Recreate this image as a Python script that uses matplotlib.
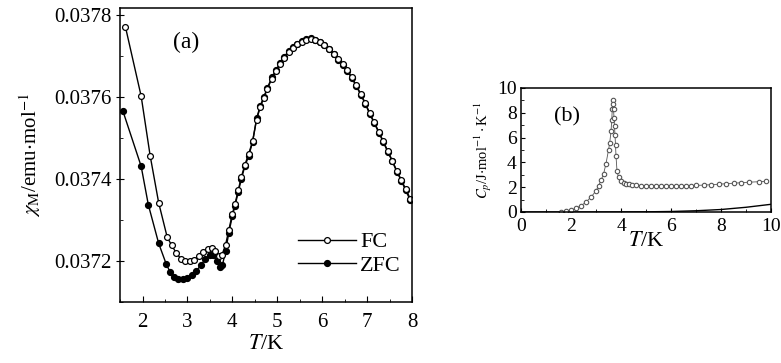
import matplotlib
matplotlib.use("Agg")
import matplotlib.pyplot as plt
from matplotlib.ticker import MultipleLocator

plt.rcParams['font.family'] = ['Liberation Serif', 'DejaVu Serif']
plt.rcParams['mathtext.fontset'] = 'stix'

# ---- Panel (a) data: chi_M vs T ----
T_fc = [1.62, 1.97, 2.17, 2.36, 2.55, 2.65, 2.75, 2.85, 2.95, 3.05, 3.15, 3.25, 3.35,
        3.45, 3.55, 3.62, 3.70, 3.77, 3.85, 3.92, 4.00, 4.06, 4.13, 4.20, 4.28, 4.36,
        4.45, 4.54, 4.62, 4.70, 4.78, 4.88, 4.97, 5.06, 5.15, 5.25, 5.35, 5.45, 5.55,
        5.65, 5.75, 5.85, 5.95, 6.05, 6.15, 6.26, 6.36, 6.46, 6.56, 6.66, 6.76, 6.86,
        6.96, 7.06, 7.16, 7.26, 7.36, 7.46, 7.56, 7.66, 7.76, 7.86, 7.96]
chi_fc = [0.037771, 0.037602, 0.037457, 0.037342, 0.037258, 0.037238, 0.037220, 0.037206,
          0.037200, 0.037199, 0.037203, 0.037212, 0.037222, 0.037230, 0.037232, 0.037224,
          0.037212, 0.037215, 0.037240, 0.037275, 0.037315, 0.037340, 0.037372, 0.037405,
          0.037435, 0.037460, 0.037492, 0.037545, 0.037575, 0.037598, 0.037620, 0.037645,
          0.037663, 0.037680, 0.037695, 0.037710, 0.037720, 0.037728, 0.037735, 0.037740,
          0.037742, 0.037738, 0.037733, 0.037727, 0.037718, 0.037706, 0.037693, 0.037680,
          0.037665, 0.037648, 0.037628, 0.037607, 0.037585, 0.037560, 0.037538, 0.037515,
          0.037492, 0.037468, 0.037445, 0.037420, 0.037398, 0.037375, 0.037352]

T_zfc = [1.56, 1.97, 2.13, 2.36, 2.53, 2.62, 2.70, 2.80, 2.90, 3.00, 3.10, 3.20, 3.30,
         3.40, 3.50, 3.58, 3.65, 3.72, 3.78, 3.85, 3.92, 4.00, 4.06, 4.13, 4.20, 4.28,
         4.36, 4.45, 4.54, 4.62, 4.70, 4.78, 4.88, 4.97, 5.06, 5.15, 5.25, 5.35, 5.45,
         5.55, 5.65, 5.75, 5.85, 5.95, 6.05, 6.15, 6.26, 6.36, 6.46, 6.56, 6.66, 6.76,
         6.86, 6.96, 7.06, 7.16, 7.26, 7.36, 7.46, 7.56, 7.66, 7.76, 7.86, 7.96]
chi_zfc = [0.037567, 0.037431, 0.037337, 0.037243, 0.037192, 0.037172, 0.037162, 0.037156,
           0.037155, 0.037158, 0.037165, 0.037176, 0.037190, 0.037205, 0.037215, 0.037214,
           0.037200, 0.037185, 0.037190, 0.037225, 0.037268, 0.037310, 0.037335, 0.037368,
           0.037400, 0.037432, 0.037455, 0.037490, 0.037548, 0.037578, 0.037600, 0.037622,
           0.037648, 0.037665, 0.037682, 0.037697, 0.037712, 0.037722, 0.037730, 0.037736,
           0.037741, 0.037743, 0.037739, 0.037734, 0.037726, 0.037717, 0.037704, 0.037691,
           0.037678, 0.037663, 0.037646, 0.037626, 0.037605, 0.037583, 0.037558, 0.037536,
           0.037513, 0.037490, 0.037466, 0.037443, 0.037418, 0.037396, 0.037372, 0.037348]

# ---- Panel (b) data: Cp vs T ----
T_cp = [1.6, 1.8, 2.0, 2.2, 2.4, 2.6, 2.8, 3.0, 3.1, 3.2, 3.3, 3.4, 3.5, 3.55, 3.6,
        3.63, 3.65, 3.67, 3.69, 3.70, 3.72, 3.74, 3.76, 3.78, 3.80, 3.84, 3.90, 4.0,
        4.1, 4.2, 4.3, 4.45, 4.6, 4.8, 5.0, 5.2, 5.4, 5.6, 5.8, 6.0, 6.2, 6.4, 6.6,
        6.8, 7.0, 7.3, 7.6, 7.9, 8.2, 8.5, 8.8, 9.1, 9.5, 9.8]
Cp = [0.02, 0.05, 0.15, 0.3, 0.5, 0.8, 1.2, 1.7, 2.1, 2.55, 3.05, 3.9, 5.0, 5.6, 6.5,
      7.4, 8.3, 9.0, 8.7, 8.3, 7.6, 6.9, 6.2, 5.4, 4.5, 3.3, 2.8, 2.5, 2.35, 2.27,
      2.22, 2.18, 2.15, 2.12, 2.10, 2.08, 2.07, 2.06, 2.06, 2.06, 2.07, 2.08, 2.10,
      2.12, 2.14, 2.17, 2.20, 2.24, 2.28, 2.32, 2.36, 2.40, 2.44, 2.48]
T_lat = [0, 1, 2, 3, 4, 5, 6, 7, 8, 9, 10]
Cp_lat = [0, 0, 0, 0, 0.005, 0.015, 0.04, 0.10, 0.20, 0.38, 0.62]

fig = plt.figure(figsize=(7.81, 3.63), dpi=100)

# ---------- Panel (a) ----------
axa = fig.add_axes([0.1537, 0.168, 0.3739, 0.810])
axa.plot(T_fc, chi_fc, '-', color='black', lw=1.0, marker='o', ms=4.2,
         mfc='white', mec='black', mew=0.9, label='FC')
axa.plot(T_zfc, chi_zfc, '-', color='black', lw=1.0, marker='o', ms=4.2,
         mfc='black', mec='black', label='ZFC', zorder=1)
axa.set_xlim(1.5, 8.0)
axa.set_ylim(0.03710, 0.037817)
axa.xaxis.set_major_locator(MultipleLocator(1))
axa.xaxis.set_minor_locator(MultipleLocator(0.5))
axa.yaxis.set_major_locator(MultipleLocator(0.0002))
axa.yaxis.set_minor_locator(MultipleLocator(0.0001))
axa.yaxis.set_major_formatter(matplotlib.ticker.FormatStrFormatter('%.4f'))
axa.tick_params(axis='both', which='both', direction='in', labelsize=15)
axa.tick_params(axis='y', which='major', direction='inout', length=6, pad=3)
axa.tick_params(axis='x', which='major', length=4, pad=8)
axa.tick_params(which='minor', length=2.5)
axa.set_xlabel(r'$T$/K', fontsize=16, labelpad=2)
axa.set_ylabel(r'$\chi_{\rm M}$/emu$\cdot$mol$^{-1}$', fontsize=15, labelpad=8)
axa.text(2.98, 0.037734, '(a)', fontsize=17, ha='center', va='center')
leg = axa.legend(loc='lower right', bbox_to_anchor=(1.0, 0.05), frameon=False,
                 fontsize=16, handlelength=2.6, handletextpad=0.2, labelspacing=0.15,
                 borderaxespad=0.1)
for sp in axa.spines.values():
    sp.set_linewidth(1.1)

# ---------- Panel (b) ----------
axb = fig.add_axes([0.6671, 0.416, 0.3201, 0.3416])
axb.plot(T_lat, Cp_lat, '-', color='black', lw=1.0)
axb.plot(T_cp, Cp, '-', color='#555555', lw=0.6, marker='o', ms=3.2,
         mfc='white', mec='#555555', mew=0.8)
axb.set_xlim(0, 10)
axb.set_ylim(0, 10)
axb.xaxis.set_major_locator(MultipleLocator(2))
axb.xaxis.set_minor_locator(MultipleLocator(1))
axb.yaxis.set_major_locator(MultipleLocator(2))
axb.yaxis.set_minor_locator(MultipleLocator(1))
axb.tick_params(axis='both', which='both', direction='in', labelsize=14)
axb.tick_params(axis='x', pad=4)
axb.tick_params(axis='y', pad=3)
axb.tick_params(which='major', length=3)
axb.tick_params(which='minor', length=2)
axb.set_xlabel(r'$T$/K', fontsize=16, labelpad=-2)
axb.set_ylabel(r'$C_p$/J$\cdot$mol$^{-1}\cdot$K$^{-1}$', fontsize=10.5, labelpad=2)
axb.text(1.85, 7.7, '(b)', fontsize=16, ha='center', va='center')
for sp in axb.spines.values():
    sp.set_linewidth(1.1)

fig.savefig('out.png', dpi=100)
